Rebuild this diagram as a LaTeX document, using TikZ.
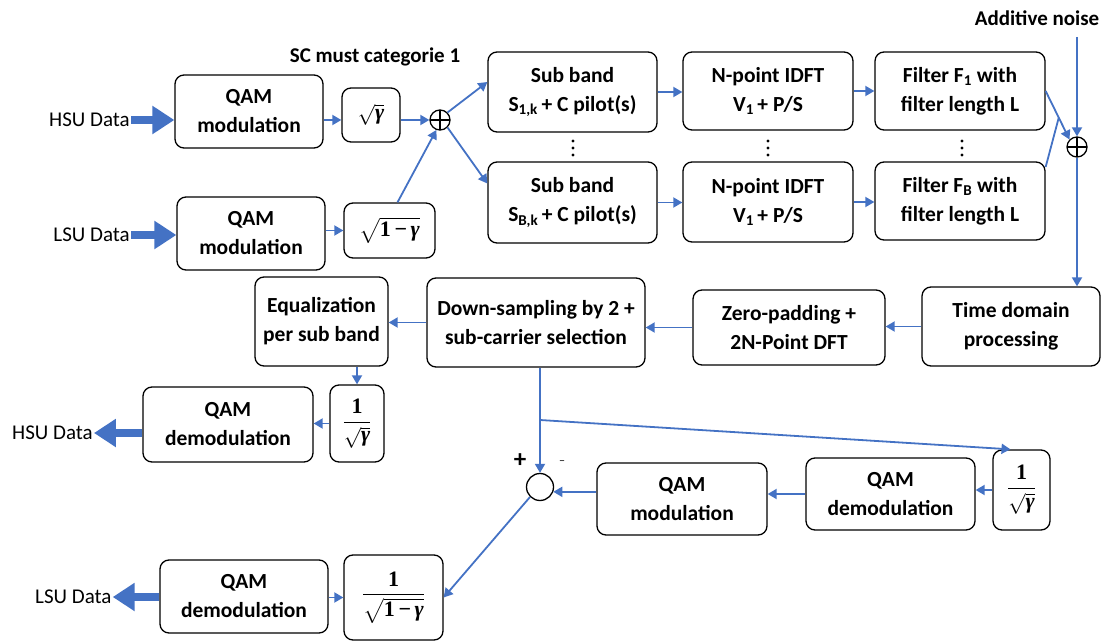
\documentclass[tikz,border=0pt]{standalone}
\usepackage{amsmath}
\usepackage{fontspec}
\setmainfont{Carlito}
\newfontfamily\mth{Liberation Serif}
\usetikzlibrary{arrows.meta,calc}
\definecolor{flow}{RGB}{68,114,196}
% bold symbols used inside the gain factors
\newcommand\gm{\mbox{\mth\bfseries\itshape γ}}
\newcommand\onem{\mbox{\mth\bfseries 1}\rule[-4pt]{0pt}{4pt}}
\newcommand\omg{\mbox{\mth\bfseries 1\,−\,\itshape γ}}

\begin{document}
\begin{tikzpicture}[x=1pt,y=-1pt,
  txt/.style={font=\fontsize{21}{25}\selectfont, inner sep=1pt},
  btxt/.style={font=\bfseries\fontsize{21}{25}\selectfont, inner sep=1pt},
  box/.style={draw, line width=1.3pt, rounded corners=9pt, align=center,
    font=\bfseries\fontsize{21.5}{29}\selectfont, inner sep=0pt},
  mbox/.style={box, font=\fontsize{22}{26}\selectfont},
  sum/.style={draw, circle, line width=1.3pt, minimum size=20pt, inner sep=0pt,
    path picture={\draw[line width=1.3pt]
      (path picture bounding box.north) -- (path picture bounding box.south)
      (path picture bounding box.west) -- (path picture bounding box.east);}},
  diff/.style={draw, circle, line width=1.3pt, minimum size=27pt, inner sep=0pt},
  wire/.style={draw=flow, line width=1.8pt},
  arr/.style={wire, -{Triangle[width=10pt,length=9pt]}},
  fat/.style={draw=flow, line width=8pt, -{Triangle[width=27pt,length=22pt]}}]
\useasboundingbox (0,0) rectangle (1105,644);

% ---------------- transmitter: superposition of the two users
\node[btxt] (sclabel) at (375,57) {SC must categorie 1};
\node[txt, anchor=east] (hsuin) at (131,120) {HSU Data};
\node[txt, anchor=east] (lsuin) at (131,235) {LSU Data};
\node[box, minimum width=148pt, minimum height=73pt] (qam1) at (249,111.5) {QAM\\modulation};
\node[box, minimum width=148pt, minimum height=73pt] (qam2) at (251,233.5) {QAM\\modulation};
\node[mbox, minimum width=58pt, minimum height=54pt] (sg1) at (371,115) {$\sqrt{\gm}$};
\node[mbox, minimum width=91pt, minimum height=55pt] (s1g) at (389.5,230.5) {$\sqrt{\omg}$};
\node[sum] (p1) at (440,120) {};

% ---------------- sub-band chains
\node[box, minimum width=169pt, minimum height=80pt] (sb1) at (572.5,92) {Sub band\\S\textsubscript{1,k}\,+ C pilot(s)};
\node[box, minimum width=169pt, minimum height=81pt] (sbB) at (572.5,202.5) {Sub band\\S\textsubscript{B,k}\,+ C pilot(s)};
\node[box, minimum width=170pt, minimum height=78pt] (idft1) at (768,91) {N-point IDFT\\V\textsubscript{1}\,+ P/S};
\node[box, minimum width=170pt, minimum height=80pt] (idftB) at (768,202) {N-point IDFT\\V\textsubscript{1}\,+ P/S};
\node[box, minimum width=170pt, minimum height=78pt] (f1) at (960,91) {Filter F\textsubscript{1} with\\filter length L};
\node[box, minimum width=170pt, minimum height=78pt] (fB) at (960,201) {Filter F\textsubscript{B} with\\filter length L};
% vertical ellipses between the first and the last chain
\coordinate (d1) at (573,148);
\coordinate (d2) at (768,148);
\coordinate (d3) at (962,148);
\foreach \d in {d1,d2,d3}
  \foreach \dy in {-7,0,7}
    \fill ([yshift=\dy pt]\d) circle (1.7pt);
\node[sum] (p2) at (1077,147) {};
\node[btxt] (noise) at (1037,18) {Additive noise};
\coordinate (ntop) at (1077,37);

% ---------------- receiver front end
\node[box, minimum width=178pt, minimum height=79pt] (tdp) at (1011,326.5) {Time domain\\processing};
\node[box, minimum width=192pt, minimum height=75pt] (zp) at (789,327.5) {Zero-padding +\\2N-Point DFT};
\node[box, minimum width=218pt, minimum height=89pt] (ds) at (536,322.5) {Down-sampling by 2 +\\sub-carrier selection};
\node[box, minimum width=133pt, minimum height=89pt] (eq) at (321.5,321.5) {Equalization\\per sub band};

% ---------------- HSU detection
\node[mbox, minimum width=54pt, minimum height=77pt] (ig1) at (357,423.5) {$\dfrac{\onem}{\sqrt{\gm}}$};
\node[box, minimum width=170pt, minimum height=75pt] (qd1) at (228,424.5) {QAM\\demodulation};
\node[txt, anchor=west] (hsuout) at (11,433) {HSU Data};

% ---------------- SIC branch for the LSU
\coordinate (br) at (540,420);
\node[diff] (circ) at (540,487) {};
\node[btxt, font=\bfseries\fontsize{25}{28}\selectfont] (plus) at (520,461) {+};
\node[txt, font=\fontsize{12}{14}\selectfont] (minus) at (562,463) {--};
\node[mbox, minimum width=57pt, minimum height=80pt] (ig2) at (1021.5,490) {$\dfrac{\onem}{\sqrt{\gm}}$};
\node[box, minimum width=169pt, minimum height=72pt] (qd2) at (890.5,494) {QAM\\demodulation};
\node[box, minimum width=170pt, minimum height=72pt] (qm3) at (682,499) {QAM\\modulation};
\node[mbox, minimum width=99pt, minimum height=85pt] (i1g) at (393.5,597.5) {$\dfrac{\onem}{\sqrt{\omg}}$};
\node[box, minimum width=168pt, minimum height=73pt] (qd3) at (244,596.5) {QAM\\demodulation};
\node[txt, anchor=west] (lsuout) at (34,597) {LSU Data};

% ---------------- connectors: transmitter
\draw[fat] (hsuin.east) -- (qam1.west |- hsuin);
\draw[fat] (lsuin.east) -- (qam2.west |- lsuin);
\draw[arr] (qam1.east |- p1) -- (sg1.west |- p1);
\draw[arr] (sg1.east |- p1) -- (p1.west);
\draw[arr] (qam2.east |- s1g) -- (s1g.west);
\draw[arr] ([xshift=8pt]s1g.north) -- (p1.250);
\draw[arr] (p1.north east) -- ([yshift=10pt]sb1.west);
\draw[arr] (p1.south east) -- ([yshift=19pt]sbB.west);
\draw[arr] (sb1.east) -- (sb1.east -| idft1.west);
\draw[arr] (sbB.east) -- (sbB.east -| idftB.west);
\draw[arr] (idft1.east) -- (idft1.east -| f1.west);
\draw[arr] (idftB.east) -- (idftB.east -| fB.west);
\coordinate (mrg) at ($(f1.east)!0.55!(p2.north west)$);
\draw[arr] (f1.east) -- (p2.north west);
\draw[wire] ([yshift=34pt]fB.east) -- (mrg);
\draw[arr] (ntop) -- (p2.north);
\draw[arr] (p2.south) -- (tdp.north -| p2);

% ---------------- connectors: receiver
\draw[arr] (tdp.west) -- (tdp.west -| zp.east);
\draw[arr] (zp.west) -- (zp.west -| ds.east);
\draw[arr] (ds.west) -- (ds.west -| eq.east);
\draw[arr] (eq.south -| ig1) -- (ig1.north);
\draw[arr] (ig1.west) -- (ig1.west -| qd1.east);
\draw[fat] (qd1.west |- hsuout) -- (hsuout.east);
\draw[wire] (ds.south -| br) -- (br);
\draw[arr] (br) -- (circ.north);
\draw[arr] (br) -- ([xshift=-11pt]ig2.north);
\draw[arr] (ig2.west) -- (ig2.west -| qd2.east);
\draw[arr] (qd2.west) -- (qd2.west -| qm3.east);
\draw[arr] (qm3.west |- circ.-20) -- (circ.-20);
\draw[arr] (circ.225) -- (i1g.east);
\draw[arr] (qd3.east |- i1g) -- (i1g.west);
\draw[fat] (qd3.west |- lsuout) -- (lsuout.east);
\end{tikzpicture}
\end{document}
